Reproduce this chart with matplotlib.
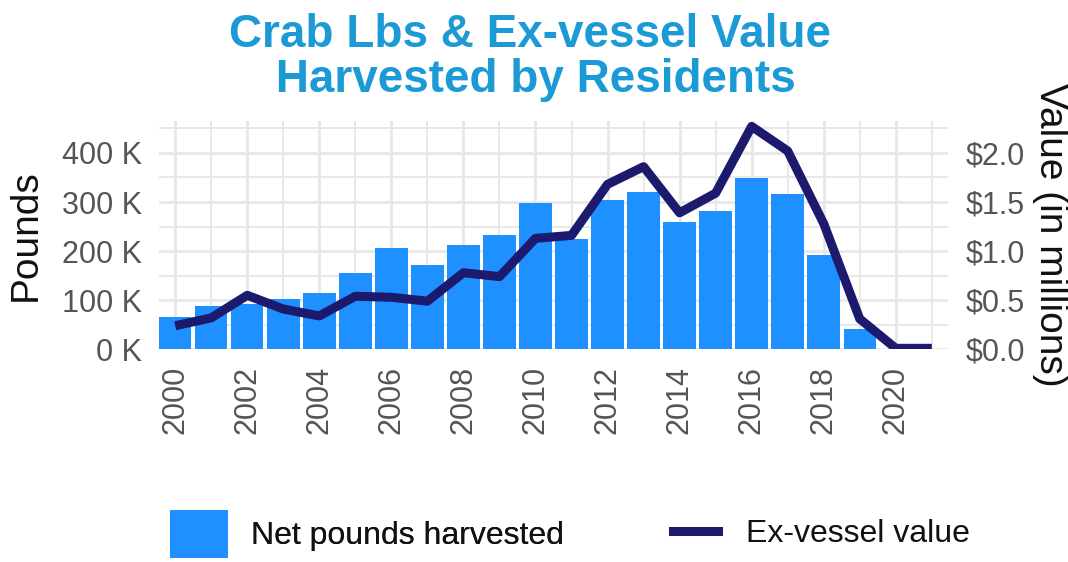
import matplotlib
matplotlib.use("Agg")
import matplotlib.pyplot as plt
from matplotlib.ticker import FuncFormatter, MultipleLocator, FixedLocator
from matplotlib.patches import Patch
from matplotlib.lines import Line2D

# ---- data ----
bar_years = list(range(2000, 2020))
pounds = [65000, 88000, 92000, 102000, 114000, 155000, 207000, 171000, 212000, 233000,
          299000, 224000, 305000, 321000, 260000, 281000, 348000, 316000, 192000, 41000]
line_years = list(range(2000, 2022))
value_millions = [0.24, 0.32, 0.55, 0.41, 0.34, 0.54, 0.53, 0.49, 0.78, 0.74,
                  1.13, 1.16, 1.68, 1.86, 1.39, 1.59, 2.27, 2.02, 1.28, 0.31, 0.01, 0.01]
left_ticks = [0, 100000, 200000, 300000, 400000]
right_ticks = [0.0, 0.5, 1.0, 1.5, 2.0]
x_ticks = list(range(2000, 2021, 2))
title_lines = ["Crab Lbs & Ex-vessel Value", " Harvested by Residents"]
bar_label = "Net pounds harvested"
line_label = "Ex-vessel value"

BAR_C = "#1e90ff"
LINE_C = "#1c1a6c"
GRID_C = "#e8e8e8"
TICK_C = "#555555"
TITLE_C = "#1b9ad6"

plt.rcParams['font.family'] = ['Liberation Sans', 'DejaVu Sans']

W, H = 1068, 562
fig = plt.figure(figsize=(W / 100, H / 100), dpi=100)
ax = fig.add_axes([159 / W, 1 - 349.3 / H, 789 / W, (349.3 - 121) / H])

ax.bar(bar_years, pounds, width=0.9, color=BAR_C, zorder=2)
ax.set_xlim(1999.55, 2021.45)
ax.set_ylim(0, 465000)

ax.xaxis.set_major_locator(FixedLocator(x_ticks))
ax.xaxis.set_minor_locator(MultipleLocator(1))
ax.yaxis.set_major_locator(FixedLocator(left_ticks))
ax.yaxis.set_minor_locator(MultipleLocator(50000))
ax.yaxis.set_major_formatter(FuncFormatter(lambda v, p: f"{v/1000:.0f} K"))
ax.grid(True, which='major', color=GRID_C, lw=2.0, zorder=0)
ax.grid(True, which='minor', color=GRID_C, lw=1.4, zorder=0)
ax.set_axisbelow(True)
for s in ax.spines.values():
    s.set_visible(False)
ax.tick_params(axis='both', which='both', length=0, labelsize=22, labelcolor=TICK_C, pad=12)
plt.setp(ax.get_xticklabels(), rotation=90)

ax2 = ax.twinx()
ax2.plot(line_years, value_millions, color=LINE_C, lw=6.5, solid_joinstyle='round',
         solid_capstyle='butt', zorder=3)
ax2.set_ylim(0, 465000 / 200000)
ax2.yaxis.set_major_locator(FixedLocator(right_ticks))
ax2.yaxis.set_major_formatter(FuncFormatter(lambda v, p: f"${v:.1f}"))
for s in ax2.spines.values():
    s.set_visible(False)
ax2.tick_params(axis='both', which='both', length=0, labelsize=22, labelcolor=TICK_C, pad=13)
ax2.grid(False)

ax.set_ylabel("Pounds", fontsize=28, color="#111111")
ax.yaxis.label.set_va('center')
ax.yaxis.set_label_coords((26 - 159) / 789, 0.5)
ax2.set_ylabel("Value (in millions)", fontsize=28, color="#111111", rotation=270)
ax2.yaxis.label.set_va('center')
ax2.yaxis.label.set_ha('center')
ax2.yaxis.set_label_coords((1050 - 159) / 789, 0.5)

fig.text(0.496, 1 - 47 / H, title_lines[0], ha='center', va='baseline',
         fontsize=33, fontweight='bold', color=TITLE_C)
fig.text(0.496, 1 - 92 / H, title_lines[1], ha='center', va='baseline',
         fontsize=33, fontweight='bold', color=TITLE_C)

leg1 = fig.legend(handles=[Patch(facecolor=BAR_C, edgecolor='none')], labels=[bar_label],
                  loc='center left', bbox_to_anchor=(170 / W, 1 - 534 / H),
                  frameon=False, fontsize=23, handlelength=1.81, handleheight=1.9,
                  handletextpad=0.72, borderpad=0, borderaxespad=0)
leg1.get_texts()[0].set_color("#111111")
leg2 = fig.legend(handles=[Line2D([], [], color=LINE_C, lw=6.5)], labels=[line_label],
                  loc='center left', bbox_to_anchor=(673 / W, 1 - 534 / H),
                  frameon=False, fontsize=23, handlelength=1.4,
                  handletextpad=0.9, borderpad=0, borderaxespad=0)
leg2.get_texts()[0].set_color("#111111")
fig.add_artist(leg1)

fig.savefig("out.png", dpi=100)
